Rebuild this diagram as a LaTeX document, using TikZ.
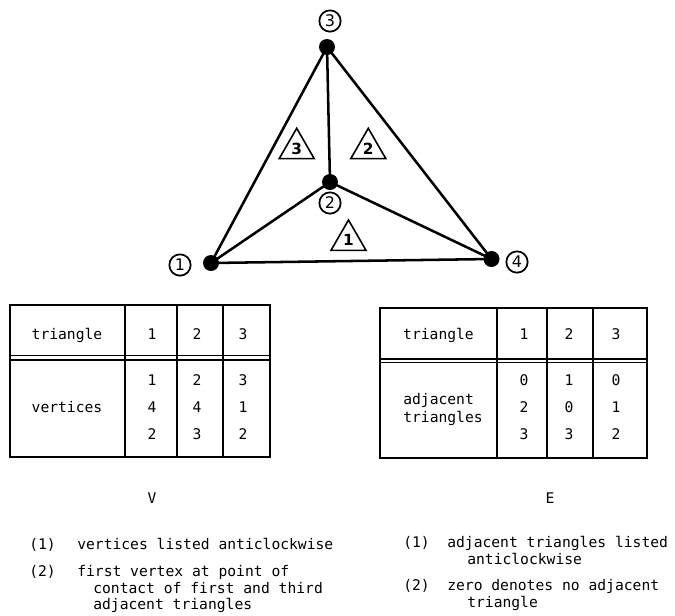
\documentclass[tikz,border=0pt]{standalone}
\usepackage{fontspec}
\setmonofont{DejaVu Sans Mono}
\setsansfont{DejaVu Sans}
\usetikzlibrary{shapes.geometric}
\begin{document}
\begin{tikzpicture}[x=0.75pt,y=-0.75pt,
  every node/.style={font=\ttfamily\fontsize{11}{13}\selectfont, inner sep=0pt},
  vdot/.style={circle,fill=black,minimum size=12pt,inner sep=0pt},
  vlab/.style={circle,draw,line width=1.3pt,minimum size=16pt,inner sep=0pt,font=\sffamily\fontsize{12}{12}\selectfont},
  tlab/.style={regular polygon,regular polygon sides=3,draw,line width=1.2pt,minimum size=30.3pt,inner sep=0pt,font=\sffamily\bfseries\fontsize{11.5}{11.5}\selectfont},
  link/.style={line width=1.9pt},
  tbl/.style={line width=1.5pt},
  dbl/.style={line width=1pt},
  txt/.style={anchor=mid},
  ltxt/.style={anchor=mid west}
]
\useasboundingbox (0,0) rectangle (675,615);

% graph
\node[vdot] (v1) at (211,263) {};
\node[vdot] (v2) at (330,182) {};
\node[vdot] (v3) at (327,47) {};
\node[vdot] (v4) at (491.5,259) {};
\draw[link] (v1.center) -- (v3.center) -- (v4.center) -- (v1.center);
\draw[link] (v2.center) -- (v1.center) (v2.center) -- (v3.center) (v2.center) -- (v4.center);

\node[vlab] (l1) at (180,265) {1};
\node[vlab] (l2) at (330,203) {2};
\node[vlab] (l3) at (330,21) {3};
\node[vlab] (l4) at (517,262) {4};

\node[tlab] (t3) at (296.7,148.5) {3};
\node[tlab] (t2) at (368.3,148.5) {2};
\node[tlab] (t1) at (348.5,240.2) {1};

% left table V
\draw[tbl] (10,305) rectangle (270,457);
\draw[tbl] (125,305) -- (125,457) (177,305) -- (177,457) (223,305) -- (223,457);
\draw[dbl] (10,355.5) -- (270,355.5) (10,360) -- (270,360);
\node[txt] (vh) at (67,337) {triangle};
\node[txt] (vh1) at (152,337) {1};
\node[txt] (vh2) at (197,337) {2};
\node[txt] (vh3) at (243,337) {3};
\node[txt] (vr) at (67,410) {vertices};
\node[txt] (va1) at (152,383) {1};
\node[txt] (va2) at (152,410) {4};
\node[txt] (va3) at (152,437) {2};
\node[txt] (vb1) at (197,383) {2};
\node[txt] (vb2) at (197,410) {4};
\node[txt] (vb3) at (197,437) {3};
\node[txt] (vc1) at (243,383) {3};
\node[txt] (vc2) at (243,410) {1};
\node[txt] (vc3) at (243,437) {2};

% right table E
\draw[tbl] (380,308) rectangle (647,458);
\draw[tbl] (497,308) -- (497,458) (547,308) -- (547,458) (593,308) -- (593,458);
\draw[dbl] (380,359) -- (647,359) (380,362.5) -- (647,362.5);
\node[txt] (eh) at (438.5,337) {triangle};
\node[txt] (eh1) at (524,337) {1};
\node[txt] (eh2) at (569,337) {2};
\node[txt] (eh3) at (616,337) {3};
\node[ltxt] (er1) at (403,402) {adjacent};
\node[ltxt] (er2) at (403,420) {triangles};
\node[txt] (ea1) at (524,383) {0};
\node[txt] (ea2) at (524,410) {2};
\node[txt] (ea3) at (524,437) {3};
\node[txt] (eb1) at (569,383) {1};
\node[txt] (eb2) at (569,410) {0};
\node[txt] (eb3) at (569,437) {3};
\node[txt] (ec1) at (616,383) {0};
\node[txt] (ec2) at (616,410) {1};
\node[txt] (ec3) at (616,437) {2};

% captions
\node[txt] (capV) at (152,501) {V};
\node[txt] (capE) at (550,501) {E};

% notes left
\node[ltxt] (n1a) at (29,547) {(1)};
\node[ltxt] (n1b) at (77,547) {vertices listed anticlockwise};
\node[ltxt] (n2a) at (29,574) {(2)};
\node[ltxt] (n2b) at (77,574) {first vertex at point of};
\node[ltxt] (n2c) at (93,590.5) {contact of first and third};
\node[ltxt] (n2d) at (93,607) {adjacent triangles};

% notes right
\node[ltxt] (m1a) at (403,545) {(1)};
\node[ltxt] (m1b) at (447,545) {adjacent triangles listed};
\node[ltxt] (m1c) at (467,562) {anticlockwise};
\node[ltxt] (m2a) at (403,588) {(2)};
\node[ltxt] (m2b) at (447,588) {zero denotes no adjacent};
\node[ltxt] (m2c) at (467,605) {triangle};
\end{tikzpicture}
\end{document}
